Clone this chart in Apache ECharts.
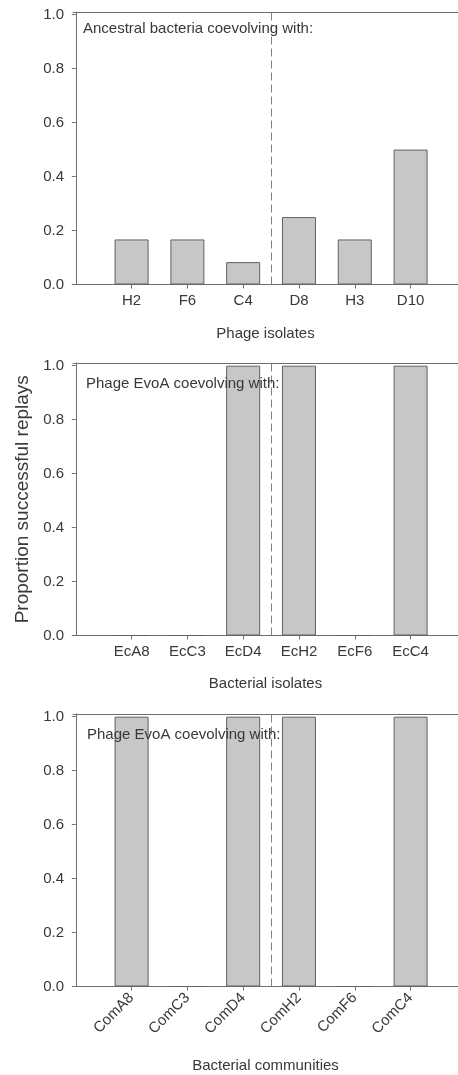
<!DOCTYPE html>
<html>
<head>
<meta charset="utf-8">
<script src="https://cdn.jsdelivr.net/npm/echarts@6/dist/echarts.min.js"></script>
<style>html,body{margin:0;padding:0;background:#fff}#c{width:458px;height:1075px}</style>
</head>
<body>
<div id="c"></div>
<script>
// ---- data ----
var phageIsolates = ['H2', 'F6', 'C4', 'D8', 'H3', 'D10'];
var phageValues = [0.167, 0.167, 0.083, 0.25, 0.167, 0.5];
var bacterialIsolates = ['EcA8', 'EcC3', 'EcD4', 'EcH2', 'EcF6', 'EcC4'];
var bacterialValues = [0, 0, 1, 1, 0, 1];
var communities = ['ComA8', 'ComC3', 'ComD4', 'ComH2', 'ComF6', 'ComC4'];
var communityValues = [1, 0, 1, 1, 0, 1];
var yTicks = [0, 0.2, 0.4, 0.6, 0.8, 1.0];
var xPositions = [1, 2, 3, 4, 5, 6];
var dividerPosition = 3.5;
var panelTexts = ['Ancestral bacteria coevolving with:', 'Phage EvoA coevolving with:', 'Phage EvoA coevolving with:'];
var xNames = ['Phage isolates', 'Bacterial isolates', 'Bacterial communities'];
var yName = 'Proportion successful replays';

var FONT = '"Liberation Sans", Arial, Helvetica, sans-serif';
var TXT = '#383838';
var AX = '#6e6e6e';
var panels = [
  {cats: phageIsolates, vals: phageValues, top: 12, rot: 0, gap: 42, tx: 83, ty: 21},
  {cats: bacterialIsolates, vals: bacterialValues, top: 363, rot: 0, gap: 41, tx: 86, ty: 376},
  {cats: communities, vals: communityValues, top: 714, rot: 45, gap: 72, tx: 87, ty: 727.5}
];
var H = 272.5;

var grids = [], xAxes = [], yAxes = [], series = [], titles = [];
panels.forEach(function (p, i) {
  grids.push({left: 73, top: p.top, right: 0, height: H, containLabel: false});
  xAxes.push({
    type: 'value', gridIndex: i, min: -0.05, max: 6.85, position: 'bottom',
    name: xNames[i], nameLocation: 'middle', nameGap: p.gap,
    nameTextStyle: {fontFamily: FONT, fontSize: 15, color: TXT},
    axisLine: {show: true, lineStyle: {color: AX, width: 1}},
    axisTick: {show: true, inside: false, length: 4, customValues: xPositions, lineStyle: {color: AX}},
    axisLabel: {
      show: true, customValues: xPositions, margin: 9, rotate: p.rot,
      fontFamily: FONT, fontSize: 15, color: TXT,
      formatter: (function (cats) { return function (v) { return cats[Math.round(v) - 1] || ''; }; })(p.cats)
    },
    splitLine: {show: false}
  });
  xAxes.push({
    type: 'value', gridIndex: i, min: -0.05, max: 6.85, position: 'top',
    axisLine: {show: true, lineStyle: {color: AX, width: 1}},
    axisTick: {show: false}, axisLabel: {show: false}, splitLine: {show: false}
  });
  yAxes.push({
    type: 'value', gridIndex: i, min: 0, max: 1.01,
    name: i === 1 ? yName : '', nameLocation: 'middle', nameGap: 39, nameRotate: 90,
    nameTextStyle: {fontFamily: FONT, fontSize: 19, color: TXT},
    axisLine: {show: true, lineStyle: {color: AX, width: 1}},
    axisTick: {show: true, inside: false, length: 4, customValues: yTicks, lineStyle: {color: AX}},
    axisLabel: {
      show: true, customValues: yTicks, margin: 9, fontFamily: FONT, fontSize: 15, color: TXT,
      formatter: function (v) { return v.toFixed(1); }
    },
    splitLine: {show: false}
  });
  series.push({
    type: 'bar', xAxisIndex: i * 2, yAxisIndex: i, barWidth: 34,
    data: p.vals.map(function (v, k) { return [xPositions[k], v]; }),
    itemStyle: {color: '#c6c7c9', borderColor: '#606060', borderWidth: 1},
    silent: true,
    markLine: {
      silent: true, symbol: ['none', 'none'], label: {show: false},
      lineStyle: {color: '#808080', width: 1, type: [8, 4]},
      data: [{xAxis: dividerPosition}]
    }
  });
  titles.push({
    text: panelTexts[i], left: p.tx, top: p.ty, padding: 0, z: 10,
    textStyle: {fontFamily: FONT, fontSize: 15, fontWeight: 'normal', color: TXT}
  });
});

var chart = echarts.init(document.getElementById('c'), null, {renderer: 'canvas'});
chart.setOption({
  animation: false,
  backgroundColor: '#ffffff',
  title: titles,
  grid: grids,
  xAxis: xAxes,
  yAxis: yAxes,
  series: series
});
</script>
</body>
</html>
